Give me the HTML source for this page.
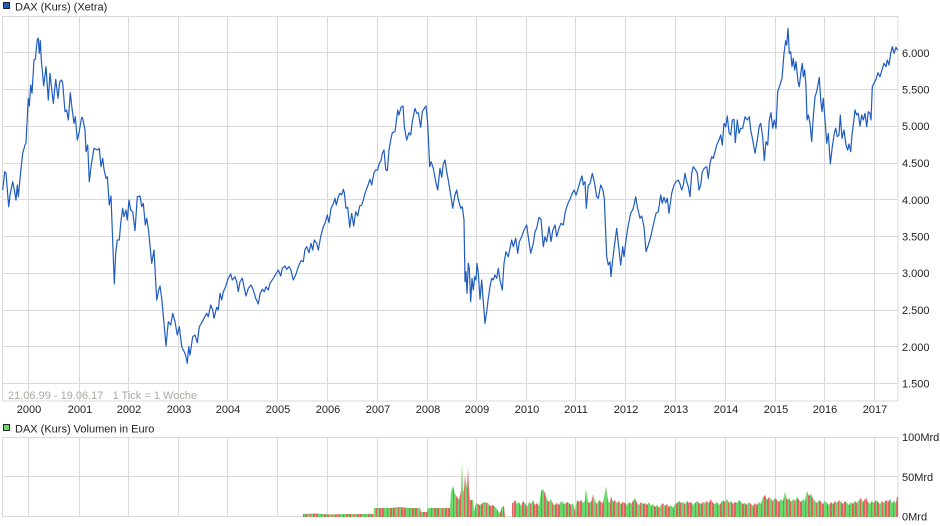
<!DOCTYPE html>
<html><head><meta charset="utf-8"><style>
html,body{margin:0;padding:0;background:#fff;}
svg{display:block;font-family:"Liberation Sans",Arial,sans-serif;}
</style></head><body>
<svg width="940" height="526" viewBox="0 0 940 526" xmlns="http://www.w3.org/2000/svg">
<defs>
<pattern id="rg" x="0" y="0" width="11" height="20" patternUnits="userSpaceOnUse">
<rect x="0" y="0" width="11" height="20" fill="#6ad86a"/>
<rect x="2" y="0" width="1" height="20" fill="#e06464"/>
<rect x="5" y="0" width="2" height="20" fill="#e06464"/>
<rect x="8" y="0" width="2" height="20" fill="#e06464"/>
</pattern>
</defs>
<rect width="940" height="526" fill="#fff"/>
<!-- legend 1 -->
<rect x="3.5" y="2.5" width="6" height="6" fill="#1f5cc0" stroke="#223" stroke-width="1"/>
<text x="15" y="10.5" font-size="11" fill="#222">DAX (Kurs) (Xetra)</text>
<!-- main grid -->
<g stroke="#dadada" stroke-width="1" fill="none">
<rect x="2.5" y="16.5" width="895.5" height="384.5"/>
<path d="M2 52.5H898M2 89.5H898M2 126.5H898M2 163.5H898M2 199.5H898M2 236.5H898M2 273.5H898M2 310.5H898M2 346.5H898M2 383.5H898"/>
<path d="M28.5 16V401M79.5 16V401M128.5 16V401M178.5 16V401M227.5 16V401M277.5 16V401M327.5 16V401M377.5 16V401M427.5 16V401M476.5 16V401M526.5 16V401M575.5 16V401M625.5 16V401M675.5 16V401M725.5 16V401M775.5 16V401M824.5 16V401M874.5 16V401"/>
</g>
<text x="8" y="399" font-size="11" fill="#aaa8a4">21.06.99 - 19.06.17&#160;&#160;&#160;1 Tick = 1 Woche</text>
<!-- price line -->
<polyline fill="none" stroke="#1f5cc0" stroke-width="1.2" stroke-linejoin="round" points="
2.7,190 4.7,171.7 6,173 8.7,206.7 10,195 12.7,181.7 14,188 16,200 17.3,185 18.3,196.7 20.7,171.7 22.7,153.3 25,145 26,143 28.3,98.3 29.3,106 30.7,85 32,93.3 34,60 35.3,59.3 37.3,39.3 38.3,38.3 39.3,53.3 40.3,40.7 41.3,60 43.7,86 46,66.7 48.3,100 50,73.3 53.3,103.3 55.7,79.3 58,98.3 59.7,81.7 61.7,80 62.7,83.3 65,111.7 66.7,110 68.3,120 70.3,92.7 72,108.3 74,123.3 75.3,116.7 77.3,140 79,132.7 81.7,117.3 82.7,118.3 85,130 86,151.7 87.7,145 89.3,181.7 91,166.7 94,148.3 97.7,150 99.3,148.3 101,166.7 102.7,158.3 104,169.3 106,178.3 107.3,176.7 109.3,205 111,196 114.3,284 115.7,253.3 117.3,240 119.3,240 120.7,223.3 122.7,208.3 124,216.7 126,210 127.3,220 129,200 130.7,210 132.7,211.7 135,230.7 137.3,196.7 140,196 141.7,206.7 143.3,203.3 145.3,225 146.7,218.3 148.7,231.7 151.7,263.3 154,250 156.7,300 158.7,290 160,286 161.7,298.3 164,323.3 166,346 168.3,321.7 170.7,325 172.7,313.3 175,321.7 177.3,335 179.3,326.7 181.7,346.7 183.3,350 185,353.3 186,356.7 187.3,363.3 188.7,346.7 190,355 192.7,336.7 195,335 197.3,342.7 199.3,326.7 201.7,322.7 204,318.3 206.7,313.3 208.3,316.7 210.7,305 212.7,310 214,318.3 216.7,307.3 218.3,310 220,293.3 221.7,300 223.3,291.7
225,288.3 228.3,278.3 230.7,274 232.3,280 235,276.7 236.7,281.7 238.3,291.7 240,281.7 242.3,278.3 244,286.7 246,296 248.3,288.3 251,285 253.3,290 255.7,298.3 258.3,304 260,294 262.3,289.3 264.3,291.7 266,286.7 268.3,290 270,283.3 273.3,278.3 276.7,272.7 278.3,270 280.7,276 282.3,268.3 285,266 286.7,269.3 289,266.7 290.7,269.3 293.3,280 295.7,275 298.3,266.7 301,260.7 303.3,261.7 305,249.3 306.7,246.7 309,252.7 311,243.3 312.7,250 314.3,240 316.7,243.3 318.3,250 320.7,236.7 323.3,226.7 325,223.3 327.3,215 329,222.7 331,208.3 333.3,204 335,198.3 336.3,205 338.3,196.7 340,193.3 341.7,195 343.3,189.3 344.3,192.7 346,208.3 347.7,207.3 349.7,227.3 351.7,213.3 353.7,226 355.7,211.7 357.7,216 359.7,206 361.7,205 363.3,200 365,193.3 367.7,186 370,179.3 371.7,185 374,172.7 375.7,170 377.7,170 379.3,163.3 381,160.7 382.3,153.3 384,150 385.7,169.3 387.3,170.7 389,150 390.7,140 392.3,132.7 395,131.7 397.7,110 399,115 401,107.3 403,106 404.3,126.7 406.7,140 409,132.7 410.7,135 412.3,121.7 415,108.3 416.7,113.3 418.3,112.7 420.7,127.3 422.3,111.7 424.3,108.3 426,106 427.7,123.3 429.7,166.7 431,161.7 433.3,168.3 435.7,181.7 437.7,190 440,168.3 441.7,177.3 443.3,164 445,160 446.7,171.7 448.3,180
451,196.7 452.7,208.3 454.7,196 456.7,190 458.3,199.3 460.7,208.3 462.3,206.7 464,220 465,281.7 466,271.7 467,293.3 468.3,263.3 469.3,268.3 470.7,301.7 472,278.3 473.3,290 474.7,276.7 476,280 477,263.3 478.3,273.3 480,299.3 481.7,280 483.3,301.7 485,323.3 486.7,311.7 488.3,298.3 490,286.7 491.7,278.3 493.3,280 495,275 496.7,278.3 498.3,268.3 500,280 502.3,290 504,263.3 506,251.7 508.3,256.7 510,248.3 511.7,240 513.3,246.7 515.7,238.3 517.7,253.3 519.3,241.7 521.7,236.7 524,230 526.7,225 528.7,240 530.7,253.3 533.3,243.3 535,231.7 536.7,228.3 539,217.3 541,219.3 543.3,246.7 545,236.7 546.7,241.7 549,226.7 551,241.7 552.7,230.7 555,225 556.7,236.7 559,228.3 561,223.3 563.3,225 565,213.3 567.3,205 570,199.3 572.3,193.3 574,190 576,195 577.7,190 580,181.7 582,176 583.3,185 585,181.7 586.3,208.3 588.3,185 590,184 592.3,173.3 594.3,181.7 596.7,196.7 598.3,198.3 600.7,185 602.7,189.3 604.3,198.3 606.7,256.7 608.3,265 610,261.7 611,276.7 612.3,263.3 614.3,246.7 616.7,228.3 618.3,243.3 620.7,265 622.7,246.7 624,256.7 626,240 628.3,225 630.7,213.3 633.3,208.3 635.7,196.7 637.3,206.7 640,218.3 641.7,216 644,226.7 646,251.7 648.3,245 650.7,236.7 653.3,225 656,213.3 658.3,211.7 660.7,195 662.3,203.3 664,197.3 665.7,202.7 667.3,198.3 669,213.3
671.7,193.3 674,185 676,181.7 678.3,180 680,184 681.7,190 683.3,185 685,173.3 686.7,181.7 688.3,186.7 690,196.7 691.7,173.3 693.3,166.7 695.7,170 697.3,173.3 699,190 700.7,185 702.3,171.7 704.3,168.3 706.7,166.7 708.3,178.3 710,163.3 711.7,156.7 713.3,158.3 715,151.7 716.7,145 719,140 720.7,135 722.3,145 724,123.3 725.7,126.7 727.3,116 729,132.7 730.7,135 732.3,120 734,119.3 735.3,142.7 737.3,120 739,133.3 740.7,128.3 742.7,128.3 745,116.7 747.3,120 749.3,116.7 750.7,130 752.7,140 755,153.3 757.3,140 759.3,126 760.7,123.3 762.7,136.7 764.3,160.7 766,141.7 767.7,145 769.3,120 771,112.7 772.7,128.3 774.3,120 776,128.3 777.7,91.7 780,85 782,78.3 784,53.3 785.7,40.7 786.7,45 788,28.3 789.3,53.3 790.7,51.7 792,66.7 793.3,58.3 794.7,70 796,61.7 798,81.7 799.3,86.7 801,71.7 802.3,63.3 803.3,76.7 804.7,70 806,86.7 807,120 808.3,115 810,123.3 811.7,141.7 813.3,116.7 815,96.7 816.7,91.7 819.3,77.3 820.7,100 822,111.7 823.3,98.3 825,120 826.7,143.3 828.3,133.3 830.3,164 832.3,146.7 834.3,133.3 835.7,128.3 837.3,136.7 839,135 840.3,115 842,138.3 844,130 846,145 847.7,150 849,144 850.7,151.7 852,135 853.3,125 855,110 856.7,115 858.3,113.3 860,126 861.7,115 863.3,120 865,113.3 866.7,126.7 868.3,111.7 870,113.3 871,120 872.3,86.7 874,83.3 876,79.3 878,72.7 880,76.7 882,70 884,63.3 886,66.7 887.3,60 889,65 890.7,53.3 892.3,46.7 894,53.3 896,47.3 897.7,50"/>
<!-- right axis labels -->
<g font-size="11" fill="#222">
<text x="902" y="57">6.000</text>
<text x="902" y="93.5">5.500</text>
<text x="902" y="130">5.000</text>
<text x="902" y="167">4.500</text>
<text x="902" y="204">4.000</text>
<text x="902" y="240.5">3.500</text>
<text x="902" y="277">3.000</text>
<text x="902" y="314">2.500</text>
<text x="902" y="351">2.000</text>
<text x="902" y="387.5">1.500</text>
</g>
<!-- year labels -->
<g font-size="11" fill="#222" text-anchor="middle">
<text x="29" y="413">2000</text>
<text x="80" y="413">2001</text>
<text x="129" y="413">2002</text>
<text x="179" y="413">2003</text>
<text x="228" y="413">2004</text>
<text x="278" y="413">2005</text>
<text x="328" y="413">2006</text>
<text x="378" y="413">2007</text>
<text x="428" y="413">2008</text>
<text x="477" y="413">2009</text>
<text x="527" y="413">2010</text>
<text x="576" y="413">2011</text>
<text x="626" y="413">2012</text>
<text x="676" y="413">2013</text>
<text x="726" y="413">2014</text>
<text x="776" y="413">2015</text>
<text x="825" y="413">2016</text>
<text x="875" y="413">2017</text>
</g>
<!-- legend 2 -->
<rect x="3.5" y="424.5" width="6" height="6" fill="#66dd66" stroke="#223" stroke-width="1"/>
<text x="15" y="432.5" font-size="11" fill="#222">DAX (Kurs) Volumen in Euro</text>
<!-- volume grid -->
<g stroke="#dadada" stroke-width="1" fill="none">
<path d="M2.5 437V517M898 437V517M2 437.5H898M2 476.5H898M2 516.5H898"/>
<path d="M28.5 437V517M79.5 437V517M128.5 437V517M178.5 437V517M227.5 437V517M277.5 437V517M327.5 437V517M377.5 437V517M427.5 437V517M476.5 437V517M526.5 437V517M575.5 437V517M625.5 437V517M675.5 437V517M725.5 437V517M775.5 437V517M824.5 437V517M874.5 437V517"/>
</g>
<!-- volume bars (approximation) -->
<polygon fill="url(#rg)" points="303,517 303,514 315,513.5 330,514.5 345,514 360,514 374,514 374,508 390,508 400,507 408,508 420,508 421,512 427,512 428,508 450,508 451,491.7 453,486 455,494 457,497 459,500 461,490.7 462,461.7 463,491.7 464,490 465,475 466,481.7 467,488 468,466.7 469,490 470,500 473,500 474,511.7 476,503 480,505 484,502 488,503 490,506 493,505 496,508 498,511 500,513 502,507 504,506 505,517 512,517 512,503 513,503 515,500 517,504 519,502 521,506 523,501 525,503 527,507 529,502 531,504 533,500 535,505 537,503 539,506 541,491 543,489 545,493 547,500 549,502 551,499 553,504 555,505 557,503 559,505 561,501 563,503 565,504 567,502 569,503 571,505 573,503 575,511 577,500 579,502 581,500 583,503 585,501 586,489 588,502 590,503 592,500 593,494 595,501 597,504 599,500 601,502 603,503 605,492 606,486 608,501 610,503 611,496 613,502 615,500 617,503 619,501 621,504 623,502 625,503 627,505 629,502 631,504 633,501 635,498 637,503 639,505 641,502 643,504 645,503 647,505 649,502 651,506 653,504 655,507 657,505 659,508 661,505 663,503 665,506 667,504 669,507 671,505 673,508 675,504 677,503 679,501 681,503 683,502 685,504 687,501 689,503 691,502 693,505 695,503 697,501 699,503 701,504 703,502 705,503 707,501 709,503 711,499 713,503 715,504 717,502 719,505 721,503 723,500 725,502 727,499 729,503 731,501 733,504 735,502 737,503 739,500 741,502 743,504 745,503 747,505 749,502 751,504 753,506 755,503 757,505 759,502 761,504 763,497 765,495 767,500 769,497 771,499 773,501 775,498 777,500 779,502 781,499 783,501 785,491.7 787,500 789,498 791,502 793,499 795,501 797,497 799,500 801,502 803,499 805,501 807,490.7 809,496 811,494 813,499 815,501 817,503 819,500 821,502 823,504 825,501 827,503 829,505 831,502 833,504 835,501 837,503 839,500 841,502 843,504 845,501 847,503 849,505 851,502 853,504 855,501 857,503 859,500 861,498 863,502 865,499 866,497.7 868,502 870,504 872,501 874,503 876,500 878,502 880,504 882,501 884,503 886,500 888,502 890,499 892,503 894,501 896,503 897,496.7 898,497 898,517"/>
<!-- volume labels -->
<g font-size="11" fill="#222">
<text x="902" y="441">100Mrd</text>
<text x="902" y="481">50Mrd</text>
<text x="902" y="520.5">0Mrd</text>
</g>
</svg>
</body></html>
